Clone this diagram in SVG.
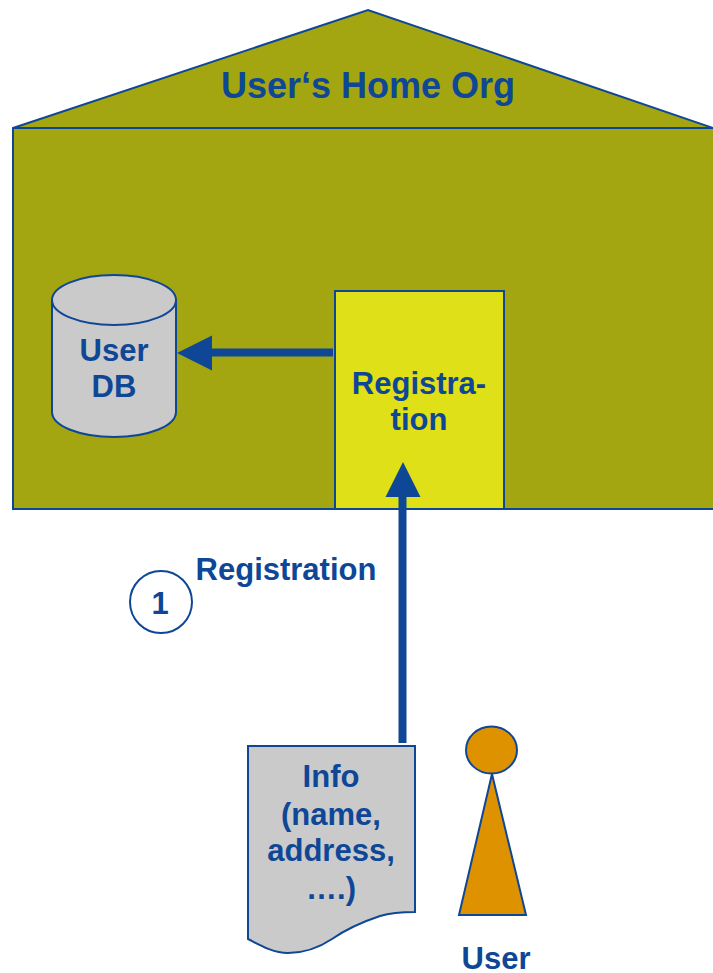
<svg xmlns="http://www.w3.org/2000/svg" width="713" height="973" viewBox="0 0 713 973">
<style>
text{font-family:"Liberation Sans",Arial,sans-serif;font-weight:bold;fill:#0f4797;text-anchor:middle;font-size:31px}
.s{stroke:#0f4797;stroke-width:2}
.c{stroke:#0f4797;stroke-width:8;fill:none}
.h{fill:#0f4797}
</style>
<rect width="713" height="973" fill="#fff"/>
<g id="home-org">
<path class="s" fill="#a3a511" d="M13 128L368 10L716 129V509H13Z"/>
<path class="s" fill="none" d="M13 128H716"/>
<text x="368" y="98" style="font-size:36px">User‘s Home Org</text>
</g>
<g id="user-db">
<path class="s" fill="#cacaca" d="M52 300V412C52 426 80 437 114 437S176 426 176 412V300Z"/>
<ellipse class="s" fill="#cacaca" cx="114" cy="300" rx="62" ry="25"/>
<text x="114" y="361">User</text>
<text x="114" y="397">DB</text>
</g>
<g id="registration">
<rect class="s" fill="#dfe018" x="335" y="291" width="169" height="218"/>
<text x="419" y="394">Registra-</text>
<text x="419" y="430">tion</text>
</g>
<g id="step-1">
<circle fill="#fff" class="s" cx="161" cy="602" r="31"/>
<text x="160" y="614">1</text>
</g>
<text x="286" y="580">Registration</text>
<g id="info">
<path class="s" fill="#cacaca" d="M248 746H415V912C400 912 390 913 380 916C362 922 345 930 332 939C320 947 305 953 288 953C272 953 258 944 248 939Z"/>
<text x="331" y="787">Info</text>
<text x="331" y="825">(name,</text>
<text x="331" y="861">address,</text>
<text x="331" y="899">….)</text>
</g>
<g id="user">
<path class="s" fill="#de9200" d="M492 774L526 915H459Z"/>
<ellipse class="s" fill="#de9200" cx="491.500" cy="750" rx="25.500" ry="23.500"/>
<text x="496" y="969">User</text>
</g>
<g id="connectors">
<path class="c" d="M333 352.500H210"/>
<path class="h" d="M177 353L212 335.500V370.500Z"/>
<path class="c" d="M402.500 743V495"/>
<path class="h" d="M403 462L420.500 497H385.500Z"/>
</g>
</svg>
